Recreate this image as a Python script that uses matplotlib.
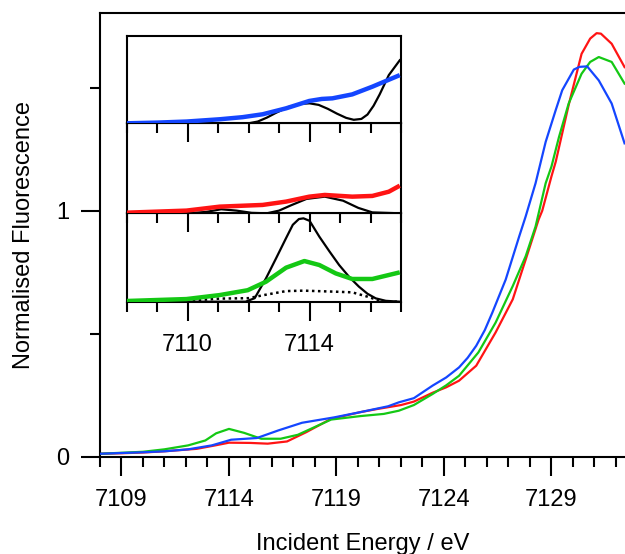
import matplotlib
matplotlib.use("Agg")
import matplotlib.pyplot as plt
from matplotlib.ticker import MultipleLocator

plt.rcParams['font.family'] = ['Liberation Sans', 'DejaVu Sans']

# ---------------- main spectra ----------------
blue_E = [7108.0, 7109, 7110, 7111, 7112.1, 7113.2, 7114.1, 7115.3, 7116.3, 7117.4,
          7118.9, 7120.1, 7121.4, 7121.9, 7122.6, 7123.47, 7124.1, 7124.7, 7125.1, 7125.5,
          7125.9, 7126.25, 7126.87, 7127.5, 7127.8, 7128.26, 7128.73, 7129.2, 7129.5,
          7130.04, 7130.3, 7130.66, 7131.2, 7131.8, 7132.4]
blue_y = [0.012, 0.015, 0.018, 0.022, 0.03, 0.046, 0.069, 0.076, 0.107, 0.138,
          0.16, 0.181, 0.205, 0.221, 0.238, 0.289, 0.322, 0.363, 0.402, 0.451,
          0.515, 0.586, 0.72, 0.896, 0.977, 1.112, 1.28, 1.41, 1.49,
          1.574, 1.585, 1.587, 1.53, 1.436, 1.274]

red_E = [7108, 7109, 7110, 7111, 7112.5, 7113.3, 7114, 7115, 7115.8, 7116.7, 7117.6,
         7118.75, 7120.1, 7120.9, 7122, 7122.6, 7123.47, 7124.1, 7124.7, 7125.5, 7126.4,
         7127.2, 7127.95, 7128.4, 7128.57, 7129.0, 7129.2, 7129.8, 7130.4, 7130.8, 7131.1,
         7131.3, 7131.8, 7132.4]
red_y = [0.012, 0.014, 0.017, 0.022, 0.032, 0.045, 0.057, 0.056, 0.053, 0.062, 0.10,
         0.154, 0.181, 0.194, 0.21, 0.224, 0.26, 0.282, 0.309, 0.37, 0.505,
         0.64, 0.842, 0.964, 1.0, 1.14, 1.2, 1.43, 1.638, 1.70, 1.722,
         1.72, 1.679, 1.584]

green_E = [7108, 7109, 7110, 7111, 7112.1, 7112.9, 7113.4, 7114, 7114.7, 7115.5, 7116.4,
           7117.2, 7118.75, 7120.1, 7121.2, 7121.9, 7122.6, 7123.47, 7124.1, 7124.7, 7125.6,
           7126.4, 7127.2, 7127.8, 7128.26, 7128.73, 7129.0, 7129.35, 7129.8, 7130.4,
           7130.8, 7131.2, 7131.8, 7132.4]
green_y = [0.012, 0.016, 0.02, 0.03, 0.046, 0.066, 0.095, 0.113, 0.097, 0.073, 0.073,
           0.089, 0.151, 0.165, 0.174, 0.187, 0.21, 0.255, 0.29, 0.329, 0.424,
           0.545, 0.694, 0.815, 0.936, 1.112, 1.18, 1.30, 1.436, 1.557,
           1.605, 1.625, 1.605, 1.517]

# ---------------- inset (pre-edge) ----------------
ins_blue_E = [7108, 7109, 7109.96, 7111.05, 7111.8, 7112.46, 7113.23, 7113.99, 7114.4,
              7114.75, 7115.4, 7116.06, 7116.96]
ins_blue_y = [0.0, 0.008, 0.02, 0.046, 0.07, 0.103, 0.171, 0.255, 0.278, 0.285, 0.33,
              0.418, 0.55]
ins_blue_fit_E = [7108, 7112.0, 7112.3, 7112.6, 7112.9, 7113.3, 7113.7, 7114.0, 7114.3,
                  7114.6, 7114.9, 7115.2, 7115.45, 7115.7, 7115.9, 7116.1, 7116.3,
                  7116.6, 7116.96]
ins_blue_fit_y = [0.0, 0.0, 0.02, 0.065, 0.12, 0.185, 0.222, 0.228, 0.21, 0.165, 0.11,
                  0.062, 0.04, 0.05, 0.1, 0.2, 0.33, 0.55, 0.72]

ins_red_E = [7108, 7109.96, 7111.05, 7112.46, 7113.23, 7113.99, 7114.5, 7115.4, 7116.06,
             7116.6, 7116.96]
ins_red_y = [0.007, 0.03, 0.074, 0.093, 0.13, 0.185, 0.204, 0.185, 0.193, 0.24, 0.307]
ins_red_fit_E = [7108, 7110, 7110.6, 7111.1, 7111.6, 7112.1, 7112.6, 7113.0, 7113.4,
                 7113.9, 7114.5, 7115.1, 7115.6, 7116.06, 7116.96]
ins_red_fit_y = [0.0, 0.0, 0.015, 0.045, 0.03, 0.005, 0.0, 0.03, 0.09, 0.16, 0.185,
                 0.14, 0.06, 0.01, 0.0]

ins_green_E = [7108, 7109.96, 7111.05, 7111.97, 7112.57, 7113.23, 7113.83, 7114.32,
               7114.86, 7115.4, 7116.06, 7116.96]
ins_green_y = [0.008, 0.03, 0.075, 0.13, 0.226, 0.385, 0.46, 0.415, 0.32, 0.257, 0.257,
               0.332]
ins_green_fit_E = [7108, 7111.9, 7112.2, 7112.57, 7112.9, 7113.23, 7113.45, 7113.65,
                   7113.8, 7114.0, 7114.32, 7114.65, 7114.97, 7115.3, 7115.62, 7115.9,
                   7116.17, 7116.5, 7116.96]
ins_green_fit_y = [0.0, 0.0, 0.04, 0.264, 0.49, 0.72, 0.87, 0.935, 0.943, 0.915, 0.736,
                   0.57, 0.415, 0.28, 0.17, 0.09, 0.038, 0.01, 0.0]
ins_green_dot_E = [7108, 7110, 7111.05, 7112, 7112.5, 7113.23, 7113.8, 7114.86, 7115.4,
                   7115.9, 7116.4, 7116.96]
ins_green_dot_y = [0.0, 0.01, 0.035, 0.04, 0.075, 0.12, 0.125, 0.113, 0.106, 0.057, 0.0,
                   0.0]

main_xticks = [7109, 7114, 7119, 7124, 7129]
inset_xticks = [7110, 7114]

BLUE = '#1446ff'
RED = '#ff1414'
GREEN = '#14c814'
FS = 17

W, H = 625, 554
fig = plt.figure(figsize=(W / 100, H / 100), dpi=100)

ax = fig.add_axes([100 / W, 1 - 456.7 / H, (625 - 100) / W, (456.7 - 13) / H])
ax.plot(blue_E, blue_y, color=BLUE, lw=1.6, zorder=3)
ax.plot(red_E, red_y, color=RED, lw=1.6, zorder=2)
ax.plot(green_E, green_y, color=GREEN, lw=1.6, zorder=2.5)
ax.set_xlim(7108, 7132.42)
ax.set_ylim(0, 1.804)
ax.set_xticks(main_xticks)
ax.xaxis.set_minor_locator(MultipleLocator(1))
ax.set_yticks([0, 1])
ax.yaxis.set_minor_locator(MultipleLocator(0.5))
ax.tick_params(axis='both', which='major', direction='out', length=14, width=1.5,
               labelsize=FS, color='black')
ax.tick_params(axis='x', which='major', pad=9)
ax.tick_params(axis='y', which='major', pad=8)
ax.tick_params(axis='both', which='minor', direction='out', length=7.5, width=1.5)
ax.spines['right'].set_visible(False)
for s in ['left', 'top', 'bottom']:
    ax.spines[s].set_linewidth(1.5)
ax.set_xlabel('Incident Energy / eV', fontsize=FS, labelpad=16)
ax.set_ylabel('Normalised Fluorescence', fontsize=FS, labelpad=15)

# inset panels
il = 126.7 / W
iw = (401 - 126.7) / W
bounds = [(35.7, 123.3), (123.3, 213.3), (213.3, 301.7)]
panels = [
    (ins_blue_E, ins_blue_y, BLUE, ins_blue_fit_E, ins_blue_fit_y, None),
    (ins_red_E, ins_red_y, RED, ins_red_fit_E, ins_red_fit_y, None),
    (ins_green_E, ins_green_y, GREEN, ins_green_fit_E, ins_green_fit_y,
     (ins_green_dot_E, ins_green_dot_y)),
]
for i, ((t, b), (e, y, c, fe, fy, dot)) in enumerate(zip(bounds, panels)):
    a = fig.add_axes([il, 1 - b / H, iw, (b - t) / H])
    a.set_facecolor('white')
    a.plot(fe, fy, color='black', lw=1.6, zorder=2)
    if dot is not None:
        a.plot(dot[0], dot[1], color='black', lw=1.8, ls=(0, (1, 1.4)), zorder=2)
    a.plot(e, y, color=c, lw=3.2, zorder=3, solid_capstyle='butt')
    a.set_xlim(7108, 7117)
    a.set_ylim(0, 1)
    a.set_yticks([])
    a.set_xticks(inset_xticks)
    a.xaxis.set_minor_locator(MultipleLocator(1))
    a.tick_params(axis='x', which='major', direction='out', length=14, width=1.5,
                  labelsize=FS, pad=9)
    a.tick_params(axis='x', which='minor', direction='out', length=7.5, width=1.5)
    for s in a.spines.values():
        s.set_linewidth(1.5)
    if i < 2:
        a.tick_params(axis='x', labelbottom=False)
        a.set_zorder(5 + (2 - i))
    else:
        a.set_zorder(5)

fig.savefig('out.png', dpi=100)
